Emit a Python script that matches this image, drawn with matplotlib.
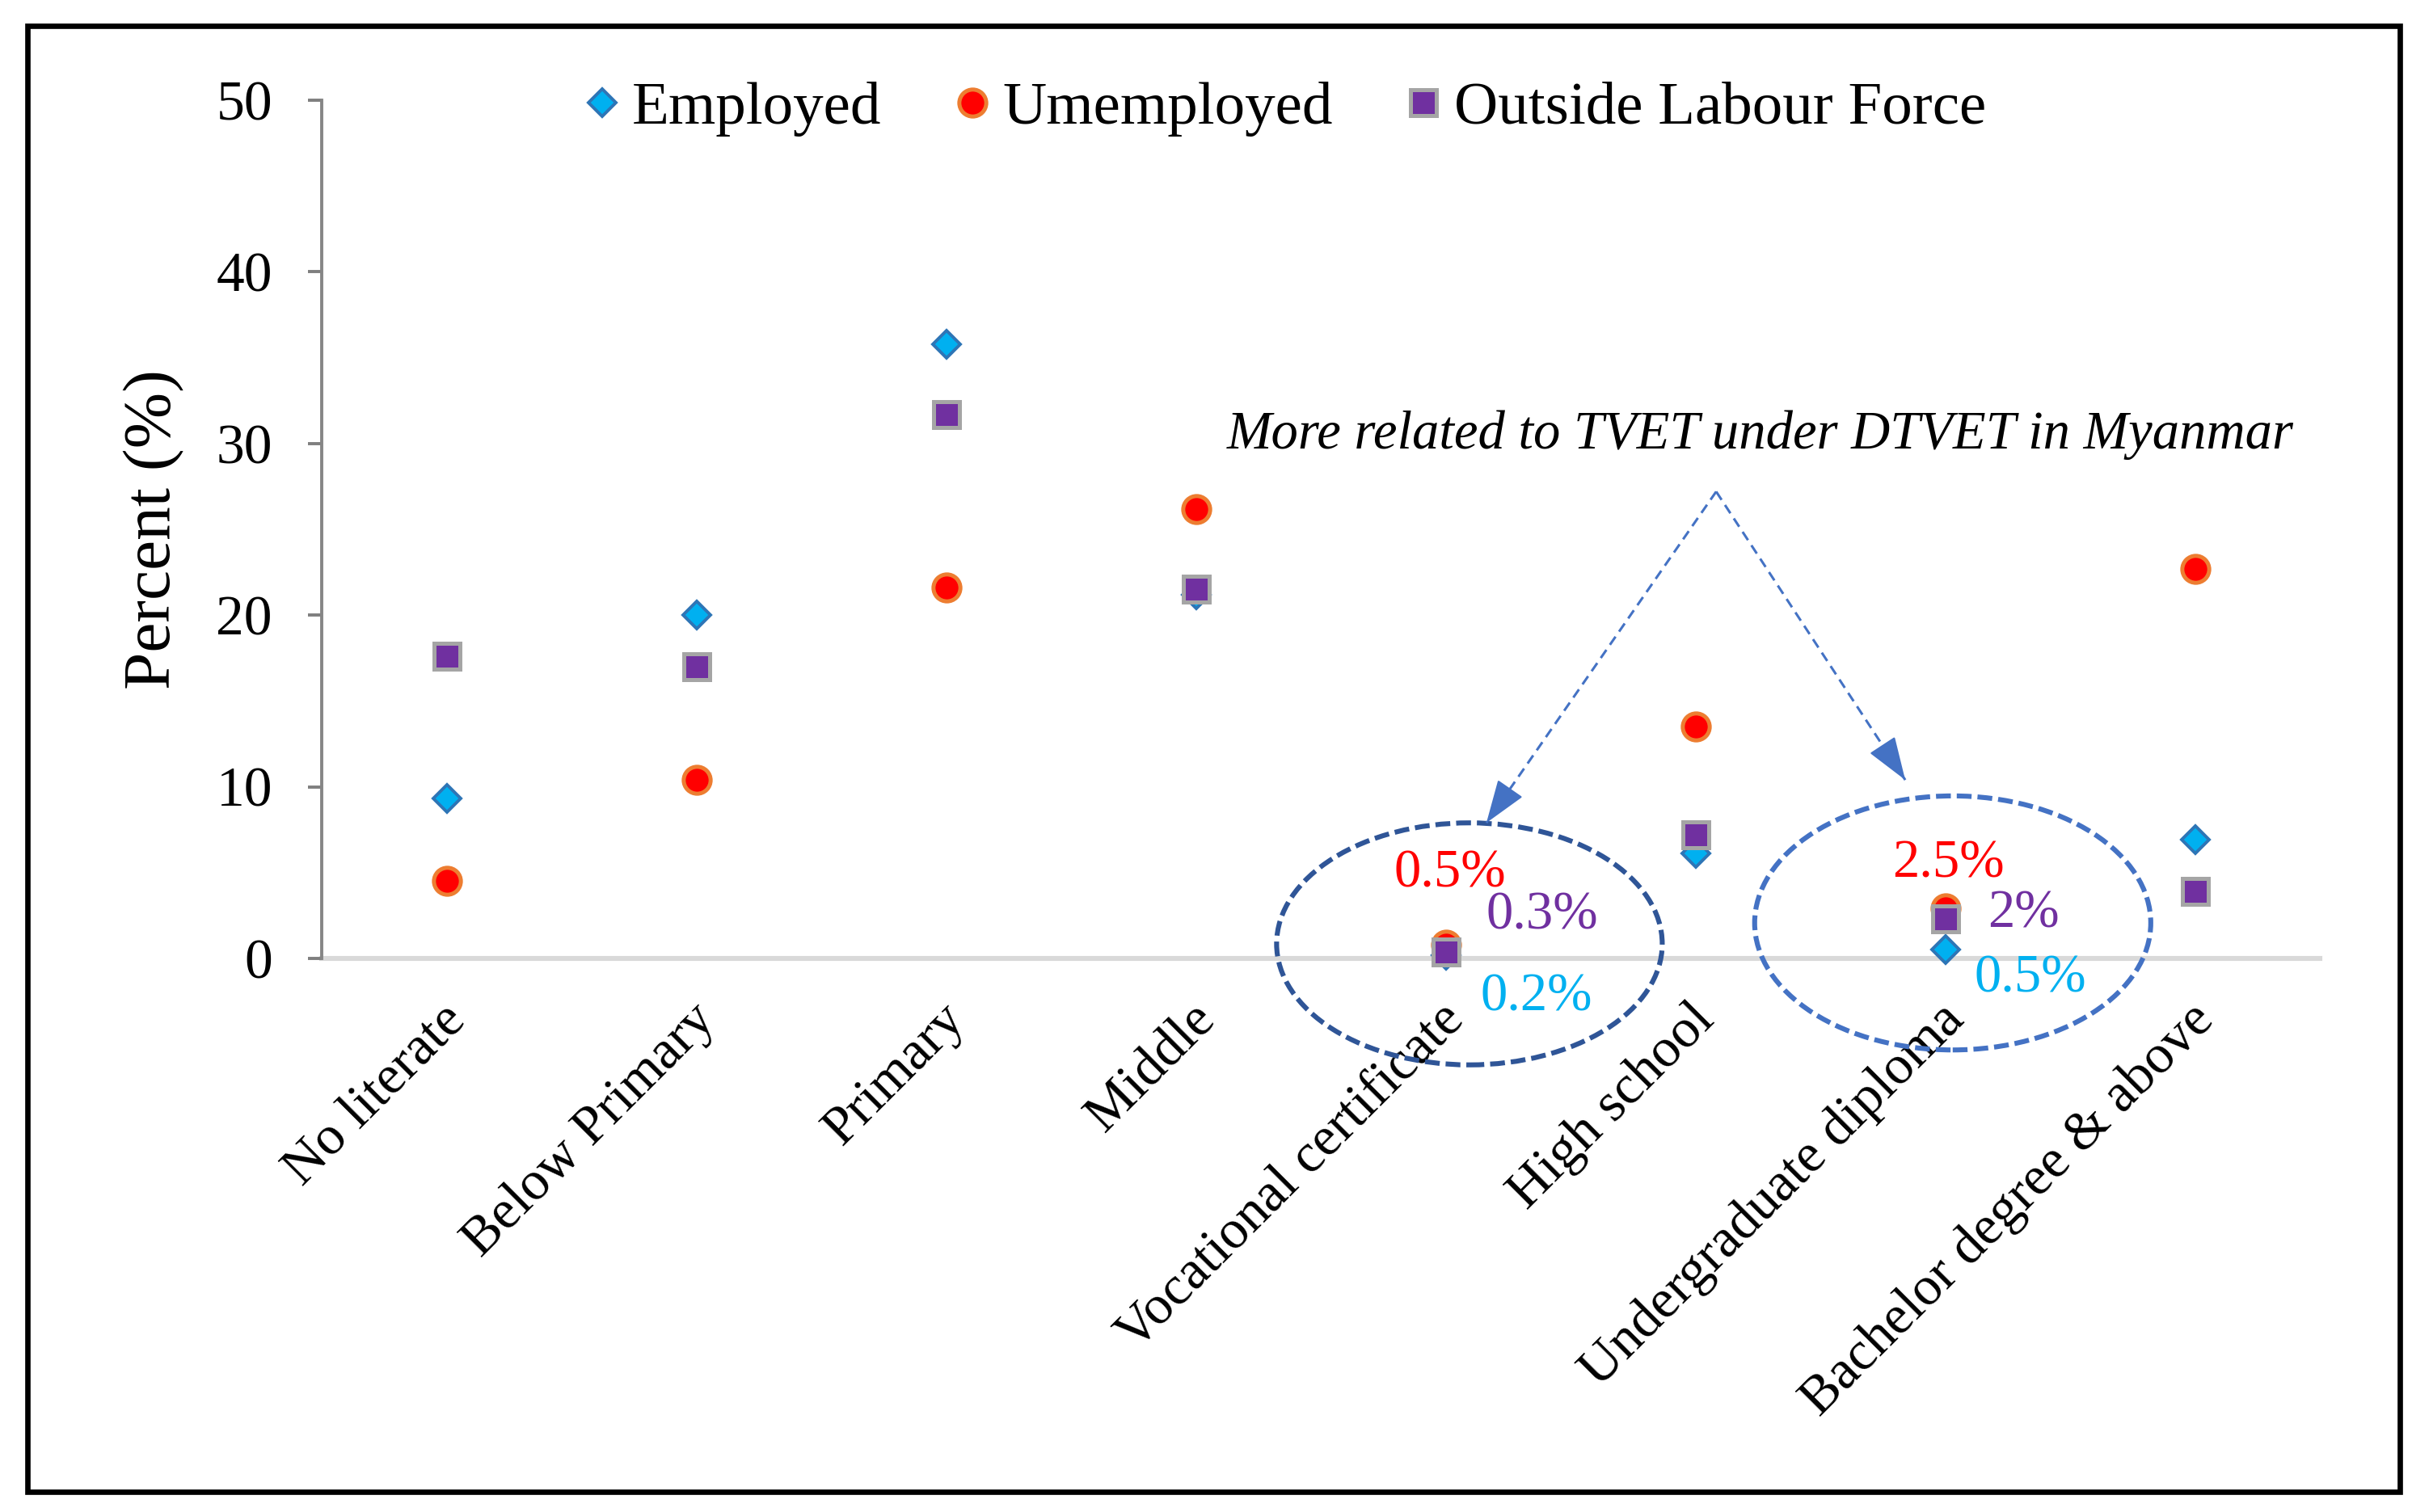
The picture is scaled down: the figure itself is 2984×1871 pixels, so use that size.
import matplotlib
matplotlib.use("Agg")
import matplotlib.pyplot as plt
from matplotlib.patches import Ellipse, Rectangle
from matplotlib.lines import Line2D
from matplotlib.transforms import ScaledTranslation

categories = ["No literate", "Below Primary", "Primary", "Middle",
              "Vocational certificate", "High school",
              "Undergraduate diploma", "Bachelor degree & above"]
employed = [9.3, 20.0, 35.8, 21.2, 0.2, 6.1, 0.5, 6.9]
unemployed = [4.5, 10.4, 21.6, 26.2, 0.8, 13.5, 2.9, 22.7]
outside = [17.6, 17.0, 31.7, 21.5, 0.4, 7.2, 2.3, 3.9]
series_names = ["Employed", "Umemployed", "Outside Labour Force"]
yticks = [0, 10, 20, 30, 40, 50]
note_text = "More related to TVET under DTVET in Myanmar"
voc_labels = ["0.5%", "0.3%", "0.2%"]
dip_labels = ["2.5%", "2%", "0.5%"]

plt.rcParams["font.family"] = ["Liberation Serif", "DejaVu Serif"]

C_EMP, C_EMP_EDGE = "#00B0F0", "#2E75B6"
C_UNE, C_UNE_EDGE = "#FF0000", "#ED7D31"
C_OUT, C_OUT_EDGE = "#7030A0", "#A5A5A5"
C_ARROW = "#4472C4"

fig = plt.figure(figsize=(14.92, 9.355), dpi=200)
ax = fig.add_axes([0.1334, 0.3661, 0.8284, 0.5676])

x = list(range(len(categories)))
styles = [
    dict(marker="D", ms=8.6, mfc=C_EMP, mec=C_EMP_EDGE, mew=1.4),
    dict(marker="o", ms=12, mfc=C_UNE, mec=C_UNE_EDGE, mew=1.8),
    dict(marker="s", ms=11.5, mfc=C_OUT, mec=C_OUT_EDGE, mew=1.8),
]
for vals, st, z in zip([employed, unemployed, outside], styles, [3, 4, 5]):
    ax.plot(x, vals, ls="none", clip_on=False, zorder=z, **st)

ax.set_xlim(-0.5, 7.5)
ax.set_ylim(0, 50)
ax.set_yticks(yticks)
ax.tick_params(axis="y", direction="out", length=6, width=1.4, color="#7F7F7F",
               labelsize=25, pad=16)
ax.tick_params(axis="x", length=0, labelsize=24.5, pad=24)
for s in ["top", "right"]:
    ax.spines[s].set_visible(False)
ax.spines["left"].set_color("#868686")
ax.spines["left"].set_linewidth(1.4)
ax.spines["bottom"].set_color("#D9D9D9")
ax.spines["bottom"].set_linewidth(2.2)
ax.spines["bottom"].set_zorder(1)

ax.set_xticks(x, categories, rotation=45, ha="right", va="center",
              rotation_mode="anchor")
off = ScaledTranslation(5 / 72, 0, fig.dpi_scale_trans)
for lab in ax.get_xticklabels():
    lab.set_transform(lab.get_transform() + off)

ax.set_ylabel("Percent (%)", fontsize=30)
ax.yaxis.label.set_va("center")
ax.yaxis.set_label_coords(-0.084, 0.5)

handles = [Line2D([], [], ls="none", **st) for st in styles]
ax.legend(handles, series_names, loc="center", bbox_to_anchor=(0.482, 0.99),
          ncol=3, frameon=False, fontsize=27, handlelength=0.6,
          handletextpad=0.2, columnspacing=1.2, borderaxespad=0)

# ellipses around vocational / diploma groups
ax.add_patch(Ellipse((4.095, 0.85), 1.544, 14.1, fill=False, ec="#2F5597",
                     lw=2.2, ls=(0, (3, 1.2)), clip_on=False, zorder=2))
ax.add_patch(Ellipse((6.03, 2.07), 1.586, 14.8, fill=False, ec=C_ARROW,
                     lw=2.2, ls=(0, (3, 1.2)), clip_on=False, zorder=2))

# percent labels
lab_colors = [C_UNE, C_OUT, C_EMP]
for (tx, ty), t, c in zip([(4.017, 4.93), (4.387, 2.5), (4.362, -2.24)],
                          voc_labels, lab_colors):
    ax.text(tx, ty, t, color=c, fontsize=24, ha="center", va="center",
            clip_on=False, zorder=6)
for (tx, ty), t, c in zip([(6.014, 5.5), (6.315, 2.6), (6.34, -1.16)],
                          dip_labels, lab_colors):
    ax.text(tx, ty, t, color=c, fontsize=24, ha="center", va="center",
            clip_on=False, zorder=6)

# note + arrows (dashed shaft, solid head)
ax.text(5.26, 30.5, note_text, style="italic", fontsize=24, ha="center",
        va="center")
apex = (5.083, 27.2)
for tip in [(4.163, 7.9), (5.84, 10.4)]:
    ax.plot([apex[0], tip[0]], [apex[1], tip[1]], color=C_ARROW, lw=1.1,
            ls=(0, (4, 2.5)), clip_on=False)
    near = (tip[0] + 0.1 * (apex[0] - tip[0]), tip[1] + 0.1 * (apex[1] - tip[1]))
    ax.annotate("", xy=tip, xytext=near,
                arrowprops=dict(arrowstyle="-|>,head_length=1.7,head_width=0.6",
                                color=C_ARROW, lw=0.8, shrinkA=0, shrinkB=0),
                annotation_clip=False)

# outer frame
fig.patches.append(Rectangle((0.0114, 0.0134), 0.9836, 0.9695, fill=False,
                             ec="black", lw=2.4, transform=fig.transFigure))

fig.savefig("out.png", dpi=200)
